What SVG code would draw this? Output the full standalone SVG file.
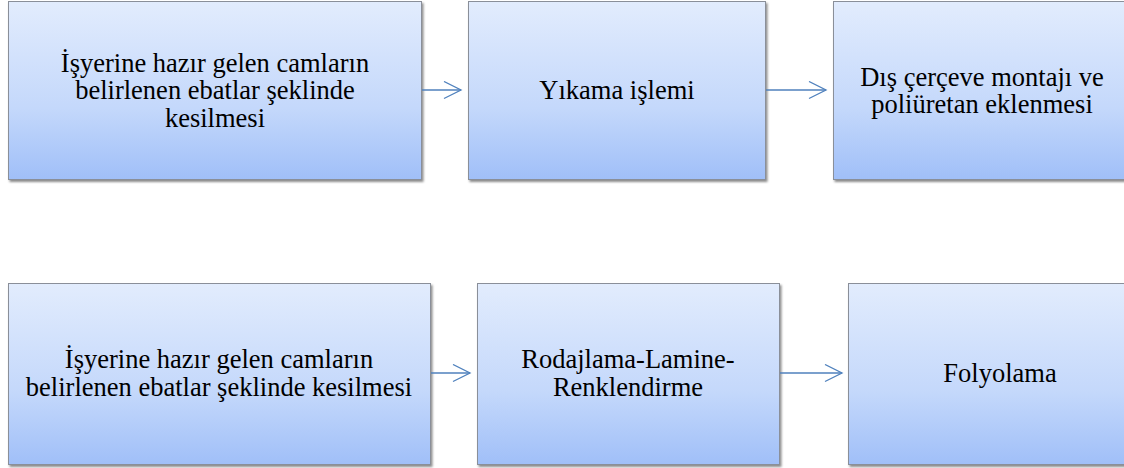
<svg xmlns="http://www.w3.org/2000/svg" width="1124" height="468" viewBox="0 0 1124 468">
<style>
.box{fill:url(#g);stroke:#8a8f99;stroke-width:1;filter:url(#sh)}
.t{font-family:"Liberation Serif","Times New Roman",serif;font-size:26.5px;fill:#000;text-anchor:middle}
.c{stroke:#4f81bd;stroke-width:1.3;fill:none}
</style>
<defs>
<linearGradient id="g" x1="0" y1="0" x2="0" y2="1">
<stop offset="0" stop-color="#e2ecfd"/>
<stop offset="0.6" stop-color="#c4d8fb"/>
<stop offset="1" stop-color="#a0bff8"/>
</linearGradient>
<filter id="sh" x="-5%" y="-5%" width="110%" height="115%">
<feDropShadow dx="1.5" dy="2" stdDeviation="1.2" flood-color="#000" flood-opacity="0.45"/>
</filter>
<marker id="ah" markerWidth="20" markerHeight="20" refX="18" refY="9.5" orient="auto" markerUnits="userSpaceOnUse">
<path d="M1,1 L18,9.5 L1,18" fill="none" stroke="#4f81bd" stroke-width="1.3"/>
</marker>
</defs>
<g id="n1">
<rect class="box" x="8.5" y="1.5" width="413" height="178"/>
<text class="t" x="215" y="71.5">İşyerine hazır gelen camların</text>
<text class="t" x="215" y="99">belirlenen ebatlar şeklinde</text>
<text class="t" x="215" y="126.5">kesilmesi</text>
</g>
<g id="n2">
<rect class="box" x="468.5" y="1.5" width="297" height="178"/>
<text class="t" x="617" y="99">Yıkama işlemi</text>
</g>
<g id="n3">
<rect class="box" x="833.5" y="1.5" width="298" height="178"/>
<text class="t" x="982" y="85.5">Dış çerçeve montajı ve</text>
<text class="t" x="982" y="113">poliüretan eklenmesi</text>
</g>
<g id="n4">
<rect class="box" x="8.5" y="283.5" width="422" height="181"/>
<text class="t" x="219" y="368">İşyerine hazır gelen camların</text>
<text class="t" x="219" y="395.5">belirlenen ebatlar şeklinde kesilmesi</text>
</g>
<g id="n5">
<rect class="box" x="477.5" y="283.5" width="302" height="181"/>
<text class="t" x="628" y="368">Rodajlama-Lamine-</text>
<text class="t" x="628" y="395.5">Renklendirme</text>
</g>
<g id="n6">
<rect class="box" x="848.5" y="283.5" width="304" height="181"/>
<text class="t" x="1000" y="382">Folyolama</text>
</g>
<g id="connectors">
<line class="c" x1="422" y1="90" x2="461" y2="90" marker-end="url(#ah)"/>
<line class="c" x1="766" y1="90" x2="826" y2="90" marker-end="url(#ah)"/>
<line class="c" x1="431" y1="373" x2="470" y2="373" marker-end="url(#ah)"/>
<line class="c" x1="780" y1="373" x2="842" y2="373" marker-end="url(#ah)"/>
</g>
</svg>
